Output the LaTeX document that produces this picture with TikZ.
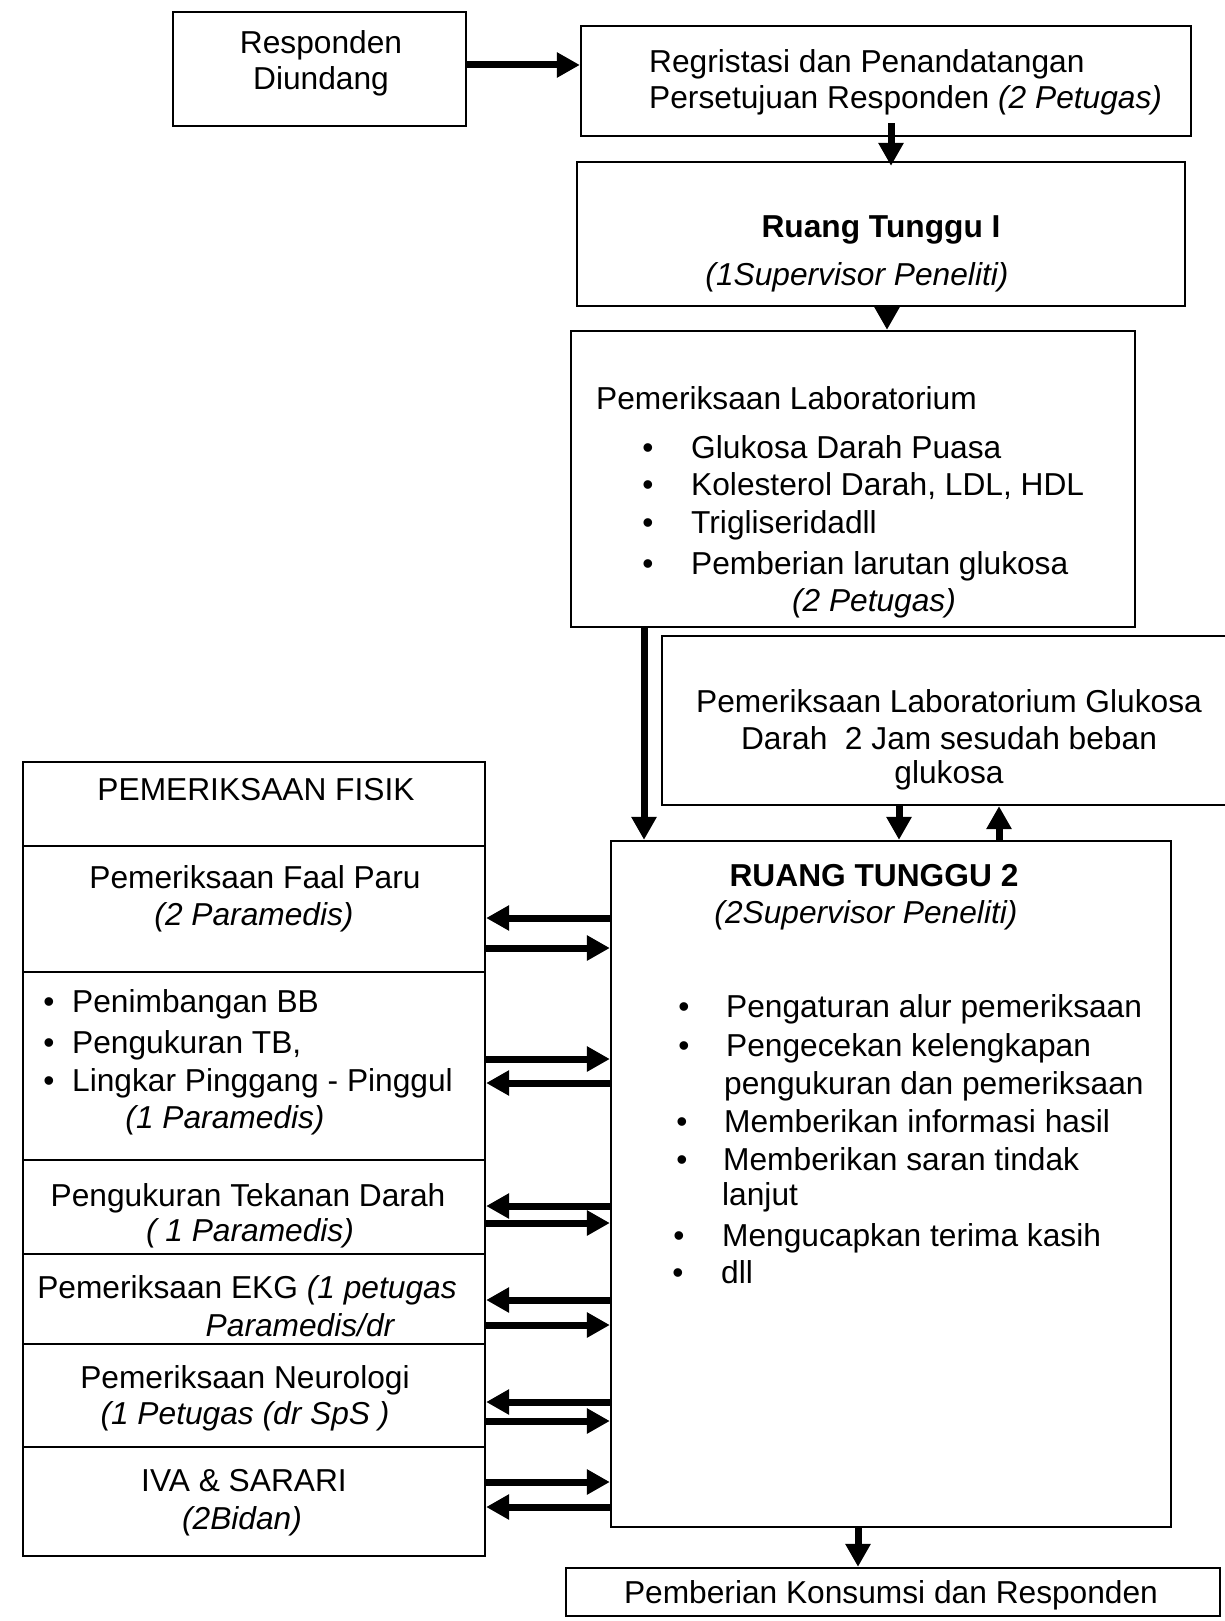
\documentclass[tikz,border=0pt]{standalone}
\usepackage{fontspec}
\setmainfont{Liberation Sans}
\usetikzlibrary{arrows.meta,calc}
\newcommand{\fsz}{\fontsize{31.7}{37}\selectfont}
\begin{document}
\begin{tikzpicture}[x=1pt,y=-1pt,
  box/.style={draw, line width=2.3pt, inner sep=0pt},
  arr/.style={line width=7pt, -{Triangle[length=23pt,width=24pt]}},
  txt/.style={inner sep=0pt, font=\fsz, anchor=base},
  ltxt/.style={inner sep=0pt, font=\fsz, anchor=base west},
  itxt/.style={inner sep=0pt, font=\fsz\itshape, anchor=base},
  btxt/.style={inner sep=0pt, font=\fsz\bfseries, anchor=base},
  bul/.style={inner sep=0pt, font=\fsz, anchor=base}]
\useasboundingbox (0,0) rectangle (1225,1621);

% top row
\node[box, minimum width=293pt, minimum height=114pt] (resp) at (319.5,69) {};
\node[txt] (respA) at (321,54) {Responden};
\node[txt] (respB) at (321,90) {Diundang};

\node[box, minimum width=610pt, minimum height=110pt] (reg) at (886,81) {};
\node[ltxt] (regA) at (649,73) {Regristasi dan Penandatangan};
\node[ltxt] (regB) at (649,109) {Persetujuan Responden \textit{(2 Petugas)}};

\node[box, minimum width=608pt, minimum height=144pt] (rt1) at (881,234) {};
\node[btxt] (rt1A) at (881,238) {Ruang Tunggu I};
\node[itxt] (rt1B) at (857,285) {(1Supervisor Peneliti)};

% laboratorium
\node[box, minimum width=564pt, minimum height=296pt] (lab) at (853,479) {};
\node[ltxt] (labA) at (596,409) {Pemeriksaan Laboratorium};
\node[bul] (lb1) at (648,458) {•};
\node[bul] (lb2) at (648,495) {•};
\node[bul] (lb3) at (648,533) {•};
\node[bul] (lb4) at (648,574) {•};
\node[ltxt] (lt1) at (691,458) {Glukosa Darah Puasa};
\node[ltxt] (lt2) at (691,495) {Kolesterol Darah, LDL, HDL};
\node[ltxt] (lt3) at (691,533) {Trigliseridadll};
\node[ltxt] (lt4) at (691,574) {Pemberian larutan glukosa};
\node[itxt] (labP) at (874,611) {(2 Petugas)};

% glukosa 2 jam
\node[box, minimum width=566pt, minimum height=169pt] (glu) at (945,720.5) {};
\node[txt] (gluA) at (949,712) {Pemeriksaan Laboratorium Glukosa};
\node[txt] (gluB) at (949,749) {Darah\ \ 2 Jam sesudah beban};
\node[txt] (gluC) at (949,783) {glukosa};

% ruang tunggu 2
\node[box, minimum width=560pt, minimum height=686pt] (rt2) at (891,1184) {};
\node[btxt] (rt2A) at (874,886) {RUANG TUNGGU 2};
\node[itxt] (rt2B) at (866,923) {(2Supervisor Peneliti)};
\node[bul] (rb1) at (684,1017) {•};
\node[bul] (rb2) at (684,1056) {•};
\node[bul] (rb3) at (682,1132) {•};
\node[bul] (rb4) at (682,1170) {•};
\node[bul] (rb5) at (679,1246) {•};
\node[bul] (rb6) at (678,1283) {•};
\node[ltxt] (rl1) at (726,1017) {Pengaturan alur pemeriksaan};
\node[ltxt] (rl2) at (726,1056) {Pengecekan kelengkapan};
\node[ltxt] (rl3) at (724,1094) {pengukuran dan pemeriksaan};
\node[ltxt] (rl4) at (724,1132) {Memberikan informasi hasil};
\node[ltxt] (rl5) at (723,1170) {Memberikan saran tindak};
\node[ltxt] (rl6) at (722,1205) {lanjut};
\node[ltxt] (rl7) at (722,1246) {Mengucapkan terima kasih};
\node[ltxt] (rl8) at (721,1283) {dll};

% pemberian
\node[box, minimum width=654pt, minimum height=48pt] (pem) at (893,1592) {};
\node[txt] (pemA) at (891,1603) {Pemberian Konsumsi dan Responden};

% pemeriksaan fisik stack
\node[box, minimum width=462pt, minimum height=84pt] (fis0) at (254,804) {};
\node[box, minimum width=462pt, minimum height=126pt] (fis1) at (254,909) {};
\node[box, minimum width=462pt, minimum height=188pt] (fis2) at (254,1066) {};
\node[box, minimum width=462pt, minimum height=94pt] (fis3) at (254,1207) {};
\node[box, minimum width=462pt, minimum height=90pt] (fis4) at (254,1299) {};
\node[box, minimum width=462pt, minimum height=103pt] (fis5) at (254,1395.5) {};
\node[box, minimum width=462pt, minimum height=109pt] (fis6) at (254,1501.5) {};

\node[txt] (f0) at (256,800) {PEMERIKSAAN FISIK};
\node[txt] (f1a) at (255,888) {Pemeriksaan Faal Paru};
\node[itxt] (f1b) at (254,925) {(2 Paramedis)};
\node[bul] (fb1) at (49,1012) {•};
\node[bul] (fb2) at (49,1053) {•};
\node[bul] (fb3) at (49,1091) {•};
\node[ltxt] (f2a) at (72,1012) {Penimbangan BB};
\node[ltxt] (f2b) at (72,1053) {Pengukuran TB,};
\node[ltxt] (f2c) at (72,1091) {Lingkar Pinggang - Pinggul};
\node[itxt] (f2d) at (225,1128) {(1 Paramedis)};
\node[txt] (f3a) at (248,1206) {Pengukuran Tekanan Darah};
\node[itxt] (f3b) at (250,1241) {( 1 Paramedis)};
\node[txt] (f4a) at (247,1298) {Pemeriksaan EKG \textit{(1 petugas}};
\node[itxt] (f4b) at (300,1336) {Paramedis/dr};
\node[txt] (f5a) at (245,1388) {Pemeriksaan Neurologi};
\node[itxt] (f5b) at (245,1424) {(1 Petugas (dr SpS )};
\node[txt] (f6a) at (244,1491) {IVA \& SARARI};
\node[itxt] (f6b) at (242,1529) {(2Bidan)};

% vertical / flow arrows
\draw[arr] ([yshift=4pt]resp.east) -- ([yshift=4pt]resp.east -| reg.west);
\draw[arr] ([xshift=5pt,yshift=14pt]reg.south) -- ([xshift=10pt,yshift=-5pt]rt1.north);
\draw[arr] ([xshift=6pt]rt1.south) -- ([xshift=34pt]lab.north);
\draw[arr] ([xshift=-209pt]lab.south) -- ([xshift=-247pt]rt2.north);
\draw[arr] ([xshift=-46pt]glu.south) -- ([xshift=8pt]rt2.north);
\draw[arr] ([xshift=108pt]rt2.north) -- ([xshift=54pt]glu.south);
\draw[arr] ([xshift=-33pt]rt2.south) -- ([xshift=-35pt]pem.north);

% horizontal arrows between stack and RT2
\draw[arr] ($(fis1.east -| rt2.west)+(0,9)$) -- ($(fis1.east)+(0,9)$);
\draw[arr] ($(fis1.east)+(0,39)$) -- ($(fis1.east -| rt2.west)+(0,39)$);
\draw[arr] ($(fis2.east)+(0,-7)$) -- ($(fis2.east -| rt2.west)+(0,-7)$);
\draw[arr] ($(fis2.east -| rt2.west)+(0,17)$) -- ($(fis2.east)+(0,17)$);
\draw[arr] ($(fis3.east -| rt2.west)+(0,-1)$) -- ($(fis3.east)+(0,-1)$);
\draw[arr] ($(fis3.east)+(0,16)$) -- ($(fis3.east -| rt2.west)+(0,16)$);
\draw[arr] ($(fis4.east -| rt2.west)+(0,1)$) -- ($(fis4.east)+(0,1)$);
\draw[arr] ($(fis4.east)+(0,26)$) -- ($(fis4.east -| rt2.west)+(0,26)$);
\draw[arr] ($(fis5.east -| rt2.west)+(0,6.5)$) -- ($(fis5.east)+(0,6.5)$);
\draw[arr] ($(fis5.east)+(0,25.5)$) -- ($(fis5.east -| rt2.west)+(0,25.5)$);
\draw[arr] ($(fis6.east)+(0,-19.5)$) -- ($(fis6.east -| rt2.west)+(0,-19.5)$);
\draw[arr] ($(fis6.east -| rt2.west)+(0,5.5)$) -- ($(fis6.east)+(0,5.5)$);
\end{tikzpicture}
\end{document}
